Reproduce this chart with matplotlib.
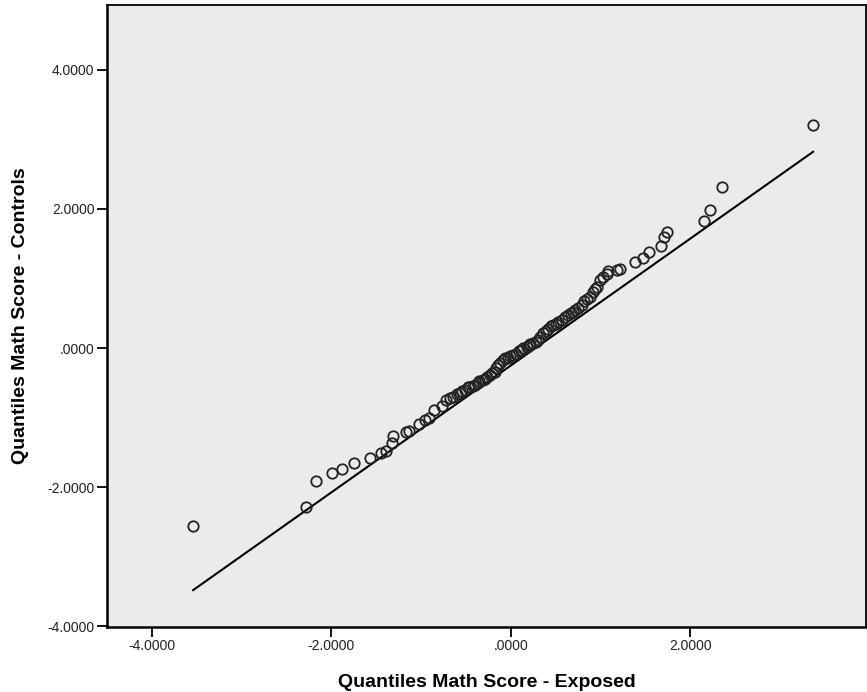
import matplotlib.pyplot as plt
from matplotlib.ticker import FuncFormatter

# quantiles
exposed_q = [-3.54, -2.28, -2.17, -1.99, -1.88, -1.75, -1.57, -1.45, -1.39, -1.32,
             -1.31, -1.17, -1.13, -1.02, -0.96, -0.91, -0.85, -0.77, -0.72, -0.68,
             -0.64, -0.60, -0.57, -0.54, -0.51, -0.48, -0.46, -0.42, -0.40, -0.37,
             -0.35, -0.31, -0.29, -0.26, -0.23, -0.21, -0.18, -0.16, -0.14, -0.12,
             -0.09, -0.06, -0.03, -0.01, 0.02, 0.06, 0.09, 0.12, 0.14, 0.18,
             0.20, 0.22, 0.25, 0.28, 0.30, 0.33, 0.36, 0.39, 0.42, 0.45,
             0.47, 0.50, 0.53, 0.57, 0.60, 0.64, 0.67, 0.69, 0.72, 0.75,
             0.79, 0.82, 0.85, 0.88, 0.92, 0.94, 0.96, 0.99, 1.03, 1.07,
             1.08, 1.18, 1.22, 1.38, 1.47, 1.54, 1.68, 1.71, 1.74, 2.15,
             2.22, 2.35, 3.37]
controls_q = [-2.56, -2.29, -1.91, -1.79, -1.74, -1.65, -1.58, -1.51, -1.48, -1.37,
              -1.27, -1.21, -1.19, -1.09, -1.04, -1.00, -0.89, -0.83, -0.75, -0.72,
              -0.70, -0.66, -0.65, -0.62, -0.60, -0.56, -0.56, -0.54, -0.53, -0.50,
              -0.48, -0.46, -0.44, -0.41, -0.39, -0.36, -0.34, -0.29, -0.24, -0.22,
              -0.17, -0.15, -0.14, -0.12, -0.10, -0.08, -0.05, -0.03, 0.00, 0.02,
              0.04, 0.06, 0.07, 0.09, 0.11, 0.16, 0.21, 0.25, 0.28, 0.31,
              0.33, 0.35, 0.38, 0.40, 0.44, 0.47, 0.50, 0.52, 0.55, 0.57,
              0.62, 0.67, 0.70, 0.74, 0.81, 0.85, 0.88, 0.98, 1.02, 1.07,
              1.10, 1.12, 1.13, 1.23, 1.30, 1.38, 1.46, 1.60, 1.67, 1.83,
              1.98, 2.32, 3.20]

# reference line end points
line_x = [-3.54, 3.37]
line_y = [-3.48, 2.82]

ticks = [-4.0, -2.0, 0.0, 2.0, 4.0]


def spss_fmt(v, pos):
    if abs(v) < 1e-9:
        return ".0000"
    return f"{v:.4f}"


plt.rcParams['font.family'] = ['Liberation Sans', 'DejaVu Sans']

fig = plt.figure(figsize=(8.67, 6.92), dpi=100)
ax = fig.add_axes([107 / 867, 65 / 692, 759 / 867, 622 / 692])
ax.set_facecolor('#ebebeb')

ax.plot(line_x, line_y, color='black', linewidth=1.5, zorder=2)
ax.plot(exposed_q, controls_q, linestyle='none', marker='o', markersize=7.5,
        markerfacecolor='none', markeredgecolor='#222222', markeredgewidth=1.3,
        zorder=3)

ax.set_xlim(-4.50, 3.96)
ax.set_ylim(-4.01, 4.93)
ax.set_xticks(ticks[:-1])
ax.set_yticks(ticks)
ax.xaxis.set_major_formatter(FuncFormatter(spss_fmt))
ax.yaxis.set_major_formatter(FuncFormatter(spss_fmt))
ax.tick_params(direction='out', length=7, width=1.3, labelsize=10,
               colors='black', labelcolor='#222222', pad=2)

for s in ax.spines.values():
    s.set_linewidth(1.3)
    s.set_color('black')
ax.spines['left'].set_linewidth(1.8)
ax.spines['bottom'].set_linewidth(1.8)

ax.set_xlabel("Quantiles Math Score - Exposed", fontsize=14, fontweight='bold',
              labelpad=15)
ax.set_ylabel("Quantiles Math Score - Controls", fontsize=14, fontweight='bold',
              labelpad=13)

fig.savefig('out.png', dpi=100)
